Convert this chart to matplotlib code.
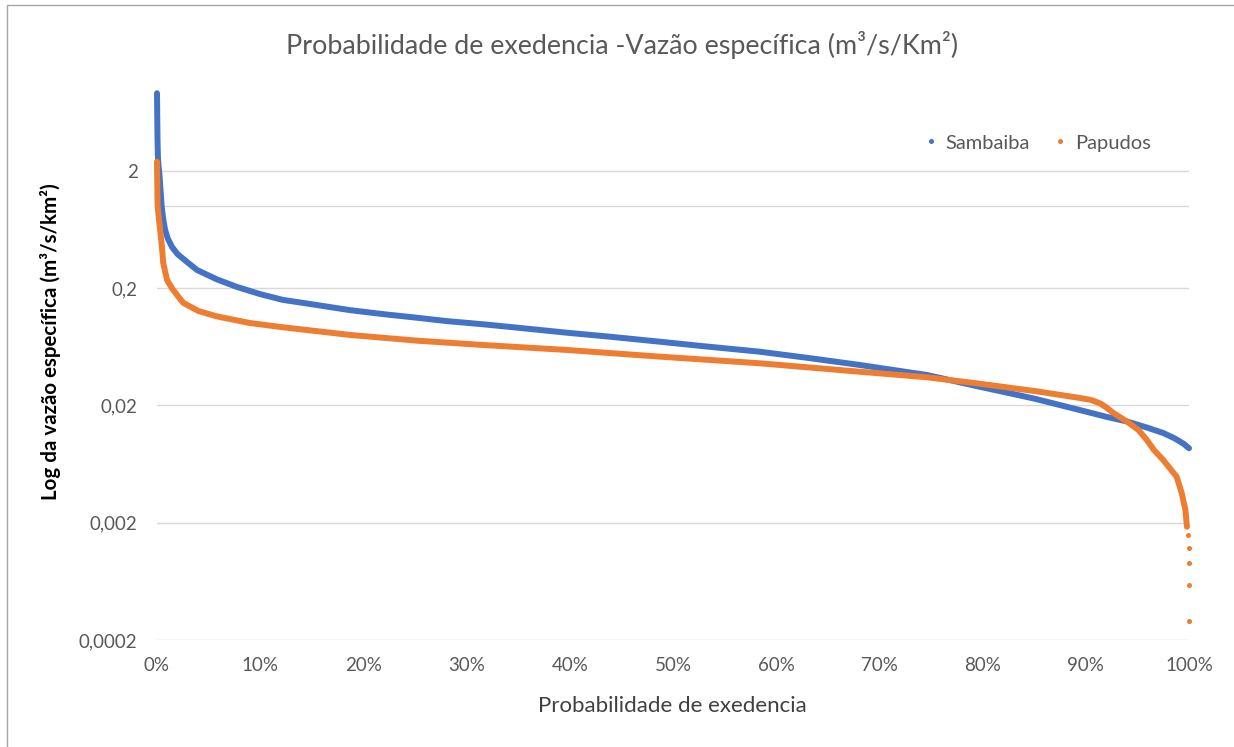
import matplotlib
matplotlib.use("Agg")
import matplotlib.pyplot as plt
from matplotlib.lines import Line2D
from matplotlib.patches import Rectangle
from matplotlib.ticker import NullLocator

plt.rcParams["font.family"] = ["Lato", "DejaVu Sans"]

# Flow duration curves: exceedance probability vs specific discharge (m3/s/km2)
samb_p = [0.0, 0.0001, 0.0002, 0.0003, 0.0004, 0.0005, 0.0007, 0.0009,
          0.0015, 0.0025, 0.0045, 0.006, 0.0078, 0.0105, 0.0145, 0.02, 0.03,
          0.0388, 0.058, 0.0775, 0.10, 0.122, 0.15, 0.187, 0.22, 0.252, 0.28,
          0.316, 0.35, 0.397, 0.44, 0.487, 0.53, 0.584, 0.63, 0.681, 0.746,
          0.794, 0.85, 0.894, 0.92, 0.94, 0.96, 0.975, 0.985, 0.99, 0.995, 1.0]
samb_q = [9.2, 7.6, 6.3, 5.2, 4.4, 3.7, 3.1, 2.6,
          2.2, 1.8, 1.0, 0.78, 0.63, 0.53, 0.45, 0.39, 0.33,
          0.286, 0.238, 0.205, 0.178, 0.159, 0.146, 0.130, 0.120, 0.112, 0.105,
          0.0985, 0.092, 0.0835, 0.077, 0.070, 0.064, 0.0575, 0.051, 0.0443, 0.0364,
          0.0293, 0.0229, 0.0183, 0.016, 0.0146, 0.0129, 0.01165, 0.0106, 0.0100, 0.0094, 0.00863]

papu_p = [0.0, 0.0003, 0.0006, 0.003, 0.0048, 0.006, 0.0097, 0.0145, 0.021,
          0.0255, 0.04, 0.058, 0.09, 0.122, 0.187, 0.252, 0.316, 0.397, 0.487,
          0.584, 0.681, 0.746, 0.794, 0.85, 0.894, 0.905, 0.914, 0.92, 0.927,
          0.94, 0.951, 0.959, 0.966, 0.975, 0.988, 0.993, 0.9965, 0.998]
papu_q = [2.4, 1.5, 1.0, 0.63, 0.45, 0.33, 0.235, 0.20, 0.168,
          0.15, 0.128, 0.115, 0.101, 0.0929, 0.0799, 0.0714, 0.0656, 0.0595, 0.0522,
          0.0458, 0.0388, 0.0348, 0.0309, 0.0266, 0.0232, 0.0223, 0.0208, 0.0192, 0.0172,
          0.01456, 0.01236, 0.0102, 0.00835, 0.00686, 0.00494, 0.00357, 0.00257, 0.00185]
# lowest Papudos flows, plotted as separate points
papu_tail_p = [0.9995, 1.0, 1.0, 1.0, 1.0]
papu_tail_q = [0.00157, 0.00121, 0.000913, 0.000589, 0.00029]

y_ticks = [0.0002, 0.002, 0.02, 0.2, 2]
y_labels = ["0,0002", "0,002", "0,02", "0,2", "2"]
x_ticks = [i / 10 for i in range(11)]
x_labels = [f"{i * 10}%" for i in range(11)]

BLUE = "#4472C4"
ORANGE = "#ED7D31"
GRID = "#D9D9D9"
TXT = "#595959"

W, H = 1234, 747
fig = plt.figure(figsize=(W / 100, H / 100), dpi=100)
ax = fig.add_axes([157 / W, 1 - 640 / H, 1032 / W, 572 / H])

ax.plot(samb_p, samb_q, color=BLUE, lw=4.3, solid_capstyle="round",
        solid_joinstyle="round", clip_on=False, zorder=3)
ax.plot(papu_p, papu_q, color=ORANGE, lw=4.3, solid_capstyle="round",
        solid_joinstyle="round", clip_on=False, zorder=4)
ax.plot(papu_tail_p, papu_tail_q, ls="none", marker="o", ms=3.6, mew=0,
        color=ORANGE, clip_on=False, zorder=4)

ax.set_yscale("log")
ax.set_ylim(0.0002, 15.1)
ax.set_xlim(0, 1)
ax.yaxis.set_minor_locator(NullLocator())
ax.set_yticks(y_ticks)
ax.set_yticklabels(y_labels)
ax.set_xticks(x_ticks)
ax.set_xticklabels(x_labels)
ax.tick_params(length=0, labelsize=13.5, labelcolor=TXT)
ax.tick_params(axis="y", pad=14)
ax.tick_params(axis="x", pad=12)

for s in ax.spines.values():
    s.set_visible(False)
ax.grid(axis="y", color=GRID, lw=1.0)
ax.set_axisbelow(True)
# horizontal axis line crosses the log axis at 1
ax.axhline(1.0, color=GRID, lw=1.0, zorder=0.5)

ax.set_ylabel("Log da vazão específica (m³/s/km²)", fontsize=14.8,
              fontweight="bold", color="black")
ax.yaxis.set_label_coords(-0.093, 0.521)
ax.set_xlabel("Probabilidade de exedencia", fontsize=16, color="#404040")
ax.xaxis.set_label_coords(0.499, -0.098)

fig.text(622 / W, 1 - 45 / H, "Probabilidade de exedencia -Vazão específica (m³/s/Km²)",
         ha="center", va="center", fontsize=19.4, color=TXT)

handles = [Line2D([], [], ls="none", marker="o", ms=3.6, mew=0, color=BLUE),
           Line2D([], [], ls="none", marker="o", ms=3.6, mew=0, color=ORANGE)]
fig.legend(handles, ["Sambaiba", "Papudos"], ncol=2, frameon=False,
           loc="center", bbox_to_anchor=(1038 / W, 1 - 143 / H),
           fontsize=14.5, labelcolor=TXT, handlelength=0.6, handletextpad=0.45,
           columnspacing=1.2)

# chart area border
fig.patches.append(Rectangle((7 / W, -0.01), 1.1, 1 - 5 / H + 0.01,
                             transform=fig.transFigure, fill=False,
                             ec="#A6A6A6", lw=1.0))

fig.savefig("out.png", dpi=100)
